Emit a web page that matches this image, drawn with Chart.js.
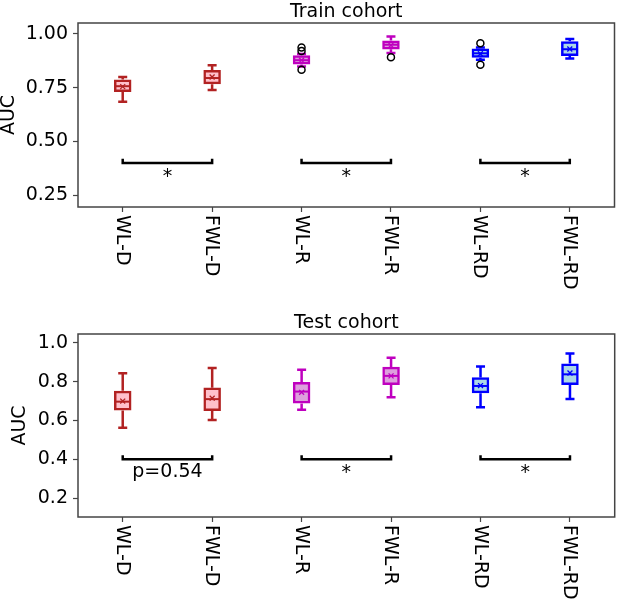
<!DOCTYPE html>
<html>
<head>
<meta charset="utf-8">
<script src="https://cdn.jsdelivr.net/npm/chart.js@4.4.1/dist/chart.umd.min.js"></script>
<style>
  html, body { margin: 0; padding: 0; background: #fff; }
  canvas { display: block; }
</style>
</head>
<body>
<canvas id="trainChart" width="620" height="300"></canvas>
<canvas id="testChart" width="620" height="303"></canvas>
<script>
// categories and box colours
const categories = ['WL-D', 'FWL-D', 'WL-R', 'FWL-R', 'WL-RD', 'FWL-RD'];
const edgeColors = ['#b22222', '#b22222', '#bf00bf', '#bf00bf', '#0000ff', '#0000ff'];
const faceColors = ['#ffc0cb', '#ffc0cb', '#dda0dd', '#dda0dd', '#add8e6', '#add8e6'];

// train cohort
const trainLow    = [0.685, 0.739, 0.849, 0.911, 0.880, 0.886];
const trainQ1     = [0.736, 0.772, 0.864, 0.934, 0.895, 0.903];
const trainMedian = [0.757, 0.795, 0.878, 0.950, 0.910, 0.929];
const trainQ3     = [0.782, 0.826, 0.895, 0.964, 0.926, 0.960];
const trainHigh   = [0.800, 0.855, 0.907, 0.988, 0.937, 0.977];
const trainMean   = [0.755, 0.800, 0.878, 0.947, 0.908, 0.930];
const trainOutliers = [[], [], [0.937, 0.921, 0.833], [0.892], [0.957, 0.857], []];
const trainTicks = [0.25, 0.50, 0.75, 1.00];
const trainSig = ['*', '*', '*'];

// test cohort
const testLow    = [0.563, 0.603, 0.655, 0.720, 0.668, 0.711];
const testQ1     = [0.658, 0.655, 0.694, 0.789, 0.747, 0.789];
const testMedian = [0.697, 0.710, 0.749, 0.830, 0.778, 0.838];
const testQ3     = [0.747, 0.763, 0.792, 0.870, 0.816, 0.888];
const testHigh   = [0.844, 0.870, 0.861, 0.924, 0.878, 0.945];
const testMean   = [0.700, 0.715, 0.745, 0.830, 0.780, 0.845];
const testOutliers = [[], [], [], [], [], []];
const testTicks = [0.2, 0.4, 0.6, 0.8, 1.0];
const testSig = ['p=0.54', '*', '*'];

// comparison brackets
const pairs = [[0, 1], [2, 3], [4, 5]];
const bracketY = 0.40;
const bracketArm = 0.42;

Chart.defaults.font.family = 'DejaVu Sans';
Chart.defaults.font.size = 19;
Chart.defaults.color = '#000';

// whiskers + medians, drawn right after the boxes
const boxExtras = {
  id: 'boxExtras',
  afterDatasetDraw(chart, args) {
    if (args.meta.type !== 'bar') return;
    const d = chart.options.plugins.boxExtras;
    const x = chart.scales.x, y = chart.scales.y;
    const ctx = chart.ctx;
    ctx.save();
    ctx.lineWidth = 2.5;
    ctx.lineCap = 'butt';
    categories.forEach((c, i) => {
      const px = x.getPixelForValue(i);
      ctx.strokeStyle = edgeColors[i];
      ctx.beginPath();
      ctx.moveTo(px, y.getPixelForValue(d.q3[i]) - 1.2);
      ctx.lineTo(px, y.getPixelForValue(d.high[i]));
      ctx.moveTo(px, y.getPixelForValue(d.q1[i]) + 1.2);
      ctx.lineTo(px, y.getPixelForValue(d.low[i]));
      ctx.moveTo(px - 4.5, y.getPixelForValue(d.high[i]));
      ctx.lineTo(px + 4.5, y.getPixelForValue(d.high[i]));
      ctx.moveTo(px - 4.5, y.getPixelForValue(d.low[i]));
      ctx.lineTo(px + 4.5, y.getPixelForValue(d.low[i]));
      ctx.stroke();
      ctx.lineWidth = 2;
      ctx.beginPath();
      ctx.moveTo(px - 7.5, y.getPixelForValue(d.median[i]));
      ctx.lineTo(px + 7.5, y.getPixelForValue(d.median[i]));
      ctx.stroke();
      ctx.lineWidth = 2.5;
    });
    ctx.restore();
  },
  afterDraw(chart) {
    const d = chart.options.plugins.boxExtras;
    const x = chart.scales.x, y = chart.scales.y;
    const a = chart.chartArea;
    const ctx = chart.ctx;
    ctx.save();
    // frame
    ctx.strokeStyle = '#444';
    ctx.lineWidth = 1.5;
    ctx.strokeRect(a.left, a.top, a.right - a.left, a.bottom - a.top);
    // brackets
    ctx.strokeStyle = '#000';
    ctx.lineWidth = 2.5;
    ctx.fillStyle = '#000';
    ctx.font = '19px "DejaVu Sans"';
    pairs.forEach((p, k) => {
      const x1 = x.getPixelForValue(p[0]), x2 = x.getPixelForValue(p[1]);
      const yb = y.getPixelForValue(bracketY), ya = y.getPixelForValue(bracketArm);
      ctx.beginPath();
      ctx.moveTo(x1, ya);
      ctx.lineTo(x1, yb);
      ctx.lineTo(x2, yb);
      ctx.lineTo(x2, ya);
      ctx.stroke();
      ctx.textAlign = 'center';
      ctx.textBaseline = 'middle';
      const s = d.sig[k];
      ctx.fillText(s, (x1 + x2) / 2, yb + (s === '*' ? 14 : 13));
    });
    // rotated category labels
    ctx.textAlign = 'left';
    ctx.textBaseline = 'middle';
    categories.forEach((c, i) => {
      ctx.save();
      ctx.translate(x.getPixelForValue(i), a.bottom + 8);
      ctx.rotate(Math.PI / 2);
      ctx.fillText(c, 0, 1);
      ctx.restore();
    });
    // title
    ctx.textAlign = 'center';
    ctx.textBaseline = 'alphabetic';
    ctx.fillText(d.title, (a.left + a.right) / 2, a.top - 6);
    ctx.restore();
  }
};

function makeChart(id, o) {
  const outlierPts = [];
  o.outliers.forEach((list, i) => list.forEach(v => outlierPts.push({ x: categories[i], y: v })));
  return new Chart(document.getElementById(id), {
    type: 'bar',
    data: {
      labels: categories,
      datasets: [
        {
          type: 'bar',
          data: o.q1.map((q, i) => [q, o.q3[i]]),
          backgroundColor: faceColors,
          borderColor: edgeColors,
          borderWidth: 2.5,
          borderSkipped: false,
          inflateAmount: 1.25,
          barThickness: 15,
          order: 3
        },
        {
          type: 'line',
          data: outlierPts,
          showLine: false,
          pointStyle: 'circle',
          pointRadius: 3.5,
          pointBorderWidth: 1.5,
          pointBorderColor: '#000',
          pointBackgroundColor: 'rgba(0,0,0,0)',
          order: 2
        },
        {
          type: 'line',
          data: o.mean,
          showLine: false,
          pointStyle: 'crossRot',
          pointRadius: 3.5,
          pointBorderWidth: 1.3,
          pointBorderColor: edgeColors,
          order: 1
        }
      ]
    },
    options: {
      responsive: false,
      animation: false,
      events: [],
      layout: { padding: { top: o.padTop, right: 3, left: 0, bottom: 0 } },
      plugins: {
        legend: { display: false },
        tooltip: { enabled: false },
        boxExtras: {
          low: o.low, q1: o.q1, median: o.median, q3: o.q3, high: o.high,
          sig: o.sig, title: o.title
        }
      },
      scales: {
        x: {
          type: 'category',
          offset: true,
          border: { display: false },
          grid: { drawOnChartArea: false, offset: false, tickLength: 5, color: '#444', tickWidth: 1.2 },
          ticks: { display: false },
          afterFit(s) { s.height = o.xHeight; }
        },
        y: {
          min: o.min,
          max: o.max,
          border: { display: false },
          grid: { drawOnChartArea: false, tickLength: 5, color: '#444', tickWidth: 1.2 },
          ticks: {
            padding: 5,
            callback: v => v.toFixed(o.digits)
          },
          afterBuildTicks(s) { s.ticks = o.ticks.map(v => ({ value: v })); },
          title: { display: true, text: 'AUC', padding: { top: o.titlePad, bottom: 0 } },
          afterFit(s) { s.width = 78; }
        }
      }
    },
    plugins: [boxExtras]
  });
}

makeChart('trainChart', {
  low: trainLow, q1: trainQ1, median: trainMedian, q3: trainQ3, high: trainHigh,
  mean: trainMean, outliers: trainOutliers, ticks: trainTicks, sig: trainSig,
  title: 'Train cohort', min: 0.195, max: 1.051, digits: 2,
  padTop: 23, xHeight: 93, titlePad: -2
});

makeChart('testChart', {
  low: testLow, q1: testQ1, median: testMedian, q3: testQ3, high: testHigh,
  mean: testMean, outliers: testOutliers, ticks: testTicks, sig: testSig,
  title: 'Test cohort', min: 0.102, max: 1.046, digits: 1,
  padTop: 34, xHeight: 86, titlePad: 9
});
</script>
</body>
</html>
